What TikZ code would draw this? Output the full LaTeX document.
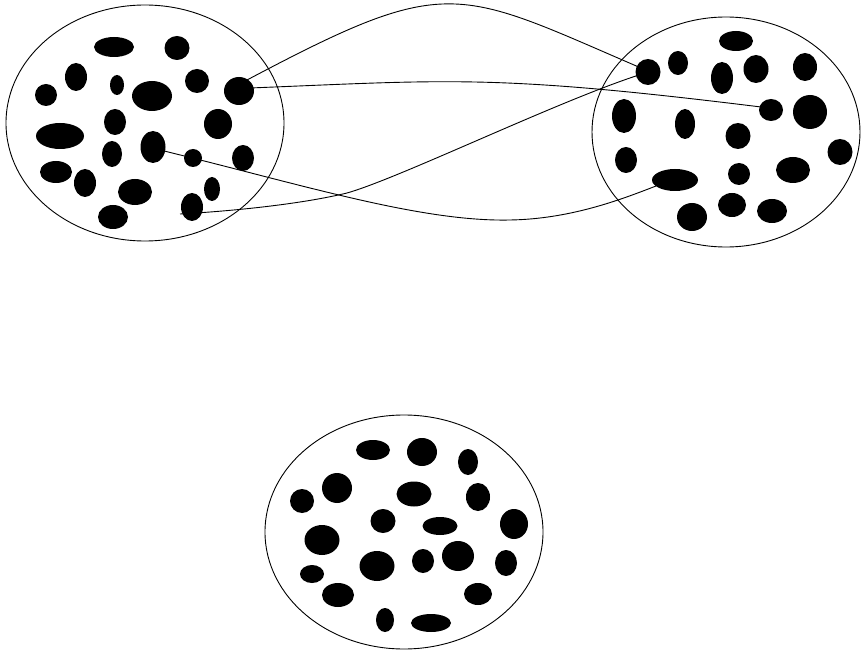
\documentclass[tikz,border=0pt]{standalone}
\begin{document}
\begin{tikzpicture}[x=1pt,y=-1pt,
  ring/.style={draw=black,line width=0.9pt},
  link/.style={draw=black,line width=0.9pt},
  blob/.style={fill=black}]
\useasboundingbox (0,0) rectangle (862,652);
\newcommand\myblob[4]{\fill[blob] (#1,#2) ellipse [x radius=#3pt, y radius=#4pt];}
% rings
\draw[ring] (145,123) ellipse [x radius=139pt, y radius=118pt];
\draw[ring] (726,132) ellipse [x radius=134pt, y radius=115pt];
\draw[ring] (404,532) ellipse [x radius=139pt, y radius=117pt];
% left blobs
\myblob{114}{47}{20}{10}
\myblob{177}{48}{12.5}{12}
\myblob{76}{77}{11}{14}
\myblob{117}{85}{7}{10}
\myblob{46}{95}{11}{11}
\myblob{152}{96}{20}{15}
\myblob{197}{81}{12}{12}
\myblob{239}{91}{15}{14}
\myblob{115}{122}{11}{13}
\myblob{218}{124}{14}{15}
\myblob{60}{136}{24}{13}
\myblob{112}{154}{10}{13}
\myblob{153}{147}{12.5}{16}
\myblob{193}{158}{9}{9}
\myblob{243}{158}{11}{13}
\myblob{56}{172}{16}{11}
\myblob{85}{183}{11}{14}
\myblob{135}{192}{17}{13}
\myblob{212}{189}{8}{12}
\myblob{192}{207}{11}{14}
\myblob{113}{217}{15}{12}
% right blobs
\myblob{736}{41}{17}{10}
\myblob{648}{72}{12.5}{13}
\myblob{678}{63}{10}{12}
\myblob{722}{78}{11}{16}
\myblob{756}{69}{12.5}{14}
\myblob{805}{67}{12}{14}
\myblob{771}{110}{12}{11}
\myblob{810}{112}{17}{17}
\myblob{624}{116}{12}{17}
\myblob{685}{124}{10}{15}
\myblob{738}{136}{12.5}{13}
\myblob{840}{152}{12.5}{13}
\myblob{626}{160}{11}{13}
\myblob{675}{180}{23}{11}
\myblob{739}{174}{11}{11}
\myblob{793}{170}{17}{13}
\myblob{692}{217}{15}{14}
\myblob{732}{205}{14}{12}
\myblob{772}{211}{15}{12}
% bottom blobs
\myblob{373}{450}{17}{10}
\myblob{422}{452}{15}{14}
\myblob{468}{462}{10}{13}
\myblob{337}{488}{15}{15}
\myblob{302}{501}{12}{12}
\myblob{414}{494}{17.5}{12.5}
\myblob{478}{497}{12}{14}
\myblob{383}{521}{12.5}{12}
\myblob{440}{526}{17.5}{9}
\myblob{514}{524}{14}{15}
\myblob{322}{540}{17.5}{15}
\myblob{377}{566}{17.5}{15}
\myblob{423}{561}{11}{12}
\myblob{458}{556}{16}{15}
\myblob{506}{563}{11}{13}
\myblob{312}{574}{12}{9}
\myblob{338}{595}{16}{12}
\myblob{478}{594}{14}{11}
\myblob{385}{620}{9}{12}
\myblob{431}{623}{20}{9}
% connector end points
\coordinate (la) at (247,80);
\coordinate (lb) at (250,88);
\coordinate (lc) at (160,150);
\coordinate (ld) at (180,214);
\coordinate (ra) at (641,68);
\coordinate (rb) at (761,107);
\coordinate (rc) at (656,186);
\coordinate (rd) at (642,74);
% connectors
\draw[link] (la) .. controls (449,-27) and (455,-12) .. (ra);
\draw[link] (lb) .. controls (450,80) and (494,74) .. (rb);
\draw[link] (lc) .. controls (300,184) and (420,222) .. (510,220)
                 .. controls (570,219) and (620,200) .. (rc);
\draw[link] (ld) .. controls (250,210) and (310,202) .. (347,193)
                 .. controls (400,178) and (560,100) .. (rd);
\end{tikzpicture}
\end{document}
